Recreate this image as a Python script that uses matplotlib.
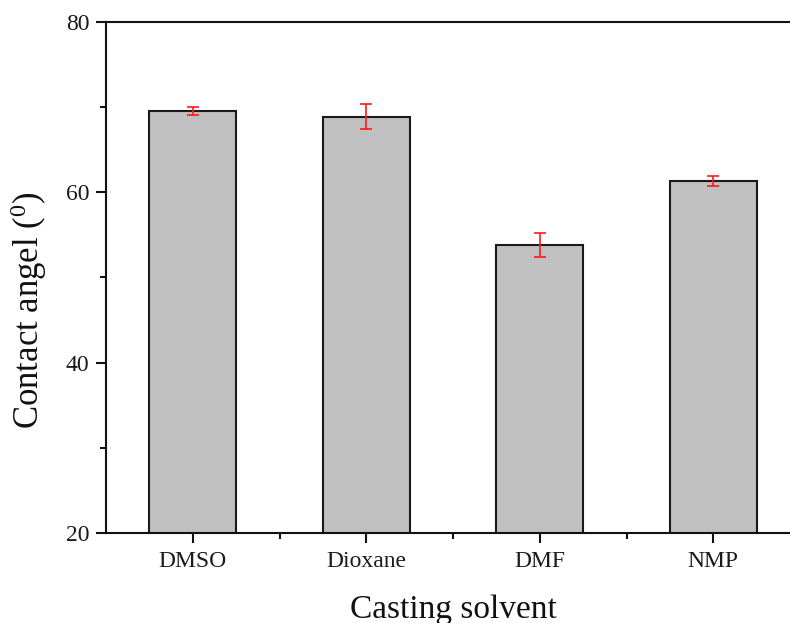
import matplotlib
matplotlib.use("Agg")
import matplotlib.pyplot as plt
from matplotlib.ticker import MultipleLocator, FixedLocator

plt.rcParams['font.family'] = ['Liberation Serif', 'DejaVu Serif']
plt.rcParams['mathtext.fontset'] = 'custom'
plt.rcParams['mathtext.rm'] = 'Liberation Serif'
plt.rcParams['mathtext.it'] = 'Liberation Serif'

# Contact angle by casting solvent
solvents = ["DMSO", "Dioxane", "DMF", "NMP"]
contact_angle = [69.5, 68.9, 53.8, 61.35]
angle_err = [0.47, 1.43, 1.42, 0.62]

fig = plt.figure(figsize=(7.9, 6.23), dpi=100)
ax = fig.add_axes([0.1342, 0.1445, 0.8785, 0.8202])

pos = list(range(1, len(solvents) + 1))
ax.bar(pos, contact_angle, width=0.5, color='#c0c0c0', edgecolor='#1a1a1a',
       linewidth=1.5, zorder=2)
ax.errorbar(pos, contact_angle, yerr=angle_err, fmt='none', ecolor='#ff1a1a',
            elinewidth=1.2, capsize=4, capthick=1.2, zorder=3)

ax.set_xlim(0.5, len(solvents) + 0.5)
ax.set_ylim(20, 80)
ax.set_xticks(pos)
ax.set_xticklabels(solvents)
ax.xaxis.set_minor_locator(FixedLocator([1.5, 2.5, 3.5]))
ax.yaxis.set_major_locator(MultipleLocator(20))
ax.yaxis.set_minor_locator(MultipleLocator(10))

for s in ax.spines.values():
    s.set_linewidth(1.5)
    s.set_color('#111111')

ax.tick_params(which='major', direction='out', length=7, width=1.5,
               labelsize=17, pad=5, color='#111111', labelcolor='#1a1a1a')
ax.tick_params(which='minor', direction='out', length=4, width=1.5,
               color='#111111')
ax.tick_params(axis='x', which='major', pad=6)

ax.set_xlabel("Casting solvent", fontsize=24, labelpad=16, color='#111111')
ax.set_ylabel(r"Contact angel ($^{0}$)", fontsize=25, color='#111111')
ax.yaxis.set_label_coords(-0.082, 0.436)

fig.savefig("out.png", dpi=100)
